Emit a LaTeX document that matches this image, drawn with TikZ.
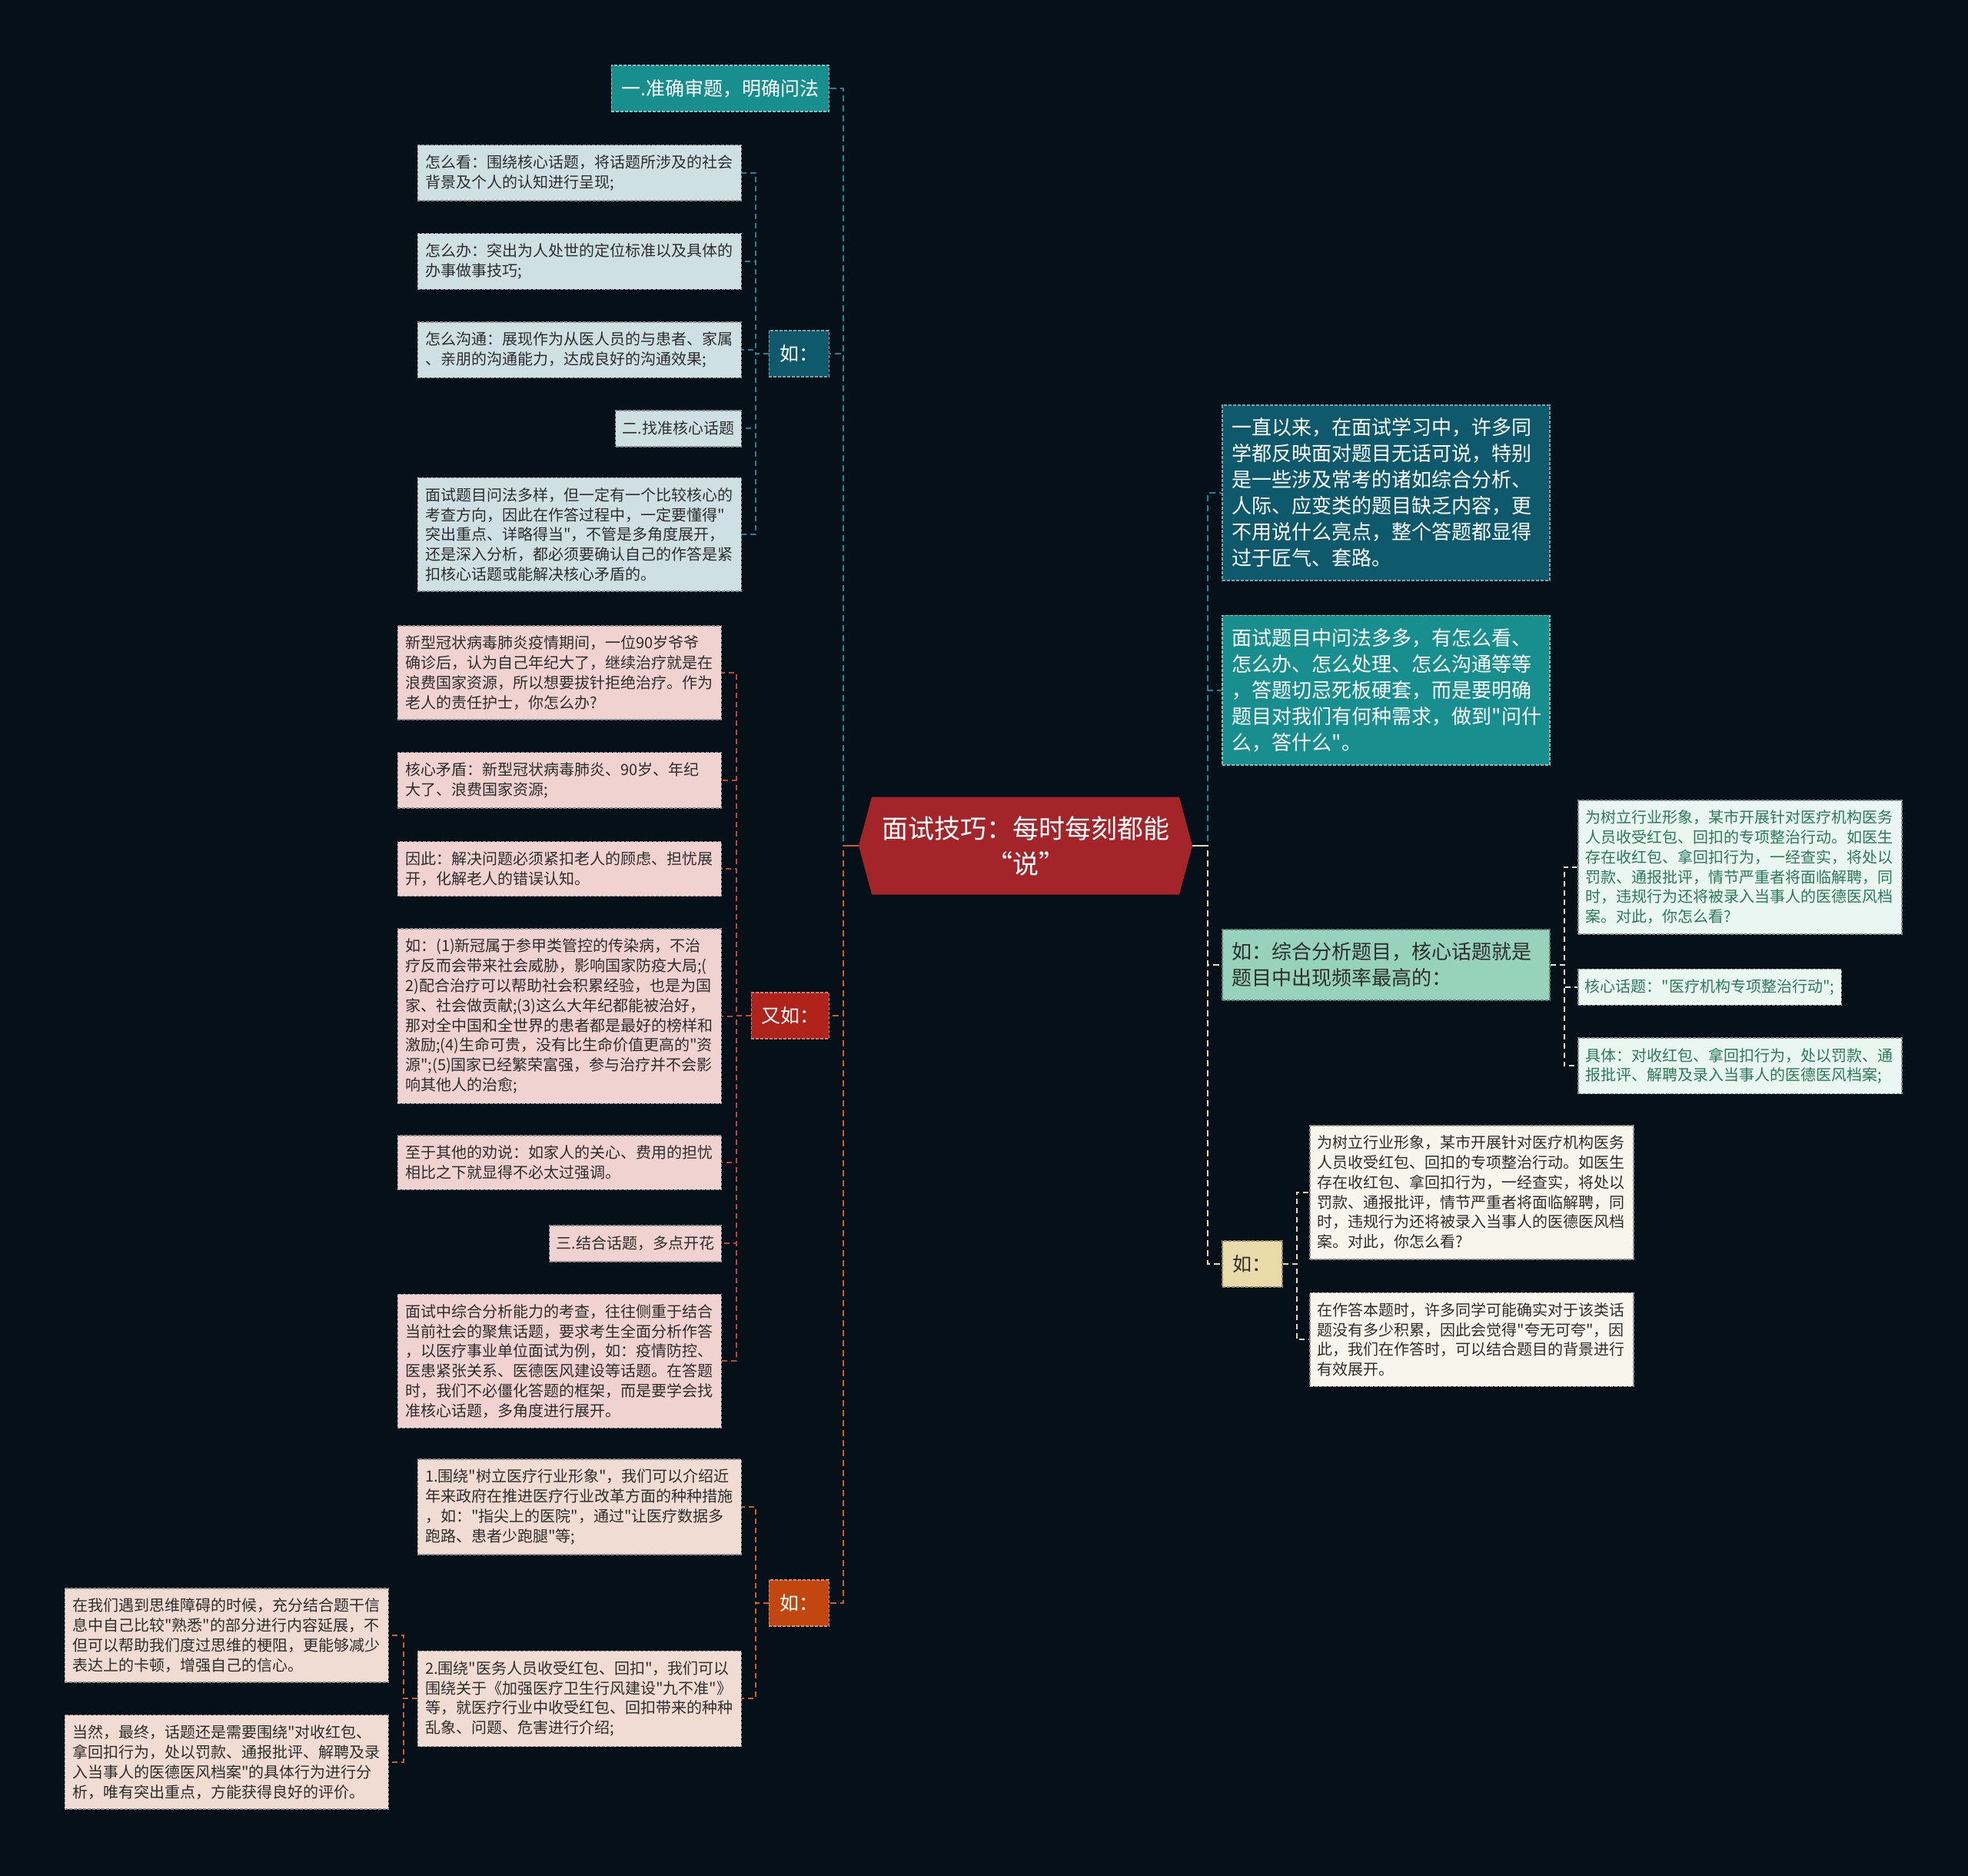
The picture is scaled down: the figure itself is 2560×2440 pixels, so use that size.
\documentclass[tikz,border=0pt]{standalone}
\usepackage{fontspec}
\newfontfamily\cjkfont{Noto Sans CJK SC}
\usepackage{tikz}
\usetikzlibrary{positioning, shapes.symbols}
\definecolor{bgnavy}{RGB}{5,16,24}
\definecolor{titlered}{RGB}{163,37,42}
\definecolor{tealmid}{RGB}{24,142,143}
\definecolor{tealdark}{RGB}{14,90,108}
\definecolor{greyblue}{RGB}{207,224,228}
\definecolor{redlabel}{RGB}{176,35,27}
\definecolor{pinkleaf}{RGB}{240,210,209}
\definecolor{orangelabel}{RGB}{193,70,16}
\definecolor{peachleaf}{RGB}{240,220,210}
\definecolor{greenlabel}{RGB}{151,210,189}
\definecolor{mintleaf}{RGB}{233,246,241}
\definecolor{greentext}{RGB}{44,122,88}
\definecolor{creamlabel}{RGB}{236,219,170}
\definecolor{creamleaf}{RGB}{248,245,236}
\definecolor{inkgrey}{RGB}{45,45,45}
\definecolor{lineteal}{RGB}{30,135,150}
\definecolor{linered}{RGB}{200,68,44}
\definecolor{lineorange}{RGB}{205,95,40}
\definecolor{linecream}{RGB}{234,220,170}
\definecolor{linemint}{RGB}{224,236,232}
\tikzset{
  nodebox/.style={rectangle, dash pattern=on 4pt off 2pt, line width=1.5pt,
    align=left, inner xsep=10pt, inner ysep=13pt},
  leafbox/.style={nodebox, text width=401pt, font=\cjkfont\fontsize{20}{25.8}\selectfont,
    text=inkgrey, draw=black!45},
  bigbox/.style={nodebox, text width=400pt, inner xsep=13pt, inner ysep=17pt,
    font=\cjkfont\fontsize{26}{34}\selectfont, text=white},
  labelbox/.style={nodebox, align=center, inner xsep=13pt, minimum height=60pt,
    font=\cjkfont\fontsize{25}{30}\selectfont},
  headbox/.style={nodebox, inner xsep=9pt, minimum height=47pt,
    font=\cjkfont\fontsize{20}{25.8}\selectfont, text=inkgrey, draw=black!45},
  conn/.style={dash pattern=on 8pt off 5pt, line width=2.5pt},
  subconn/.style={dash pattern=on 7pt off 5pt, line width=2pt},
  stubline/.style={line width=2.5pt},
}
\begin{document}
\begin{tikzpicture}[x=1pt, y=-1pt]
  \useasboundingbox (0,0) rectangle (2560,2440);
  \fill[bgnavy] (0,0) rectangle (2560,2440);

  % centre topic
  \node[signal, signal to=west and east, signal pointer angle=150, fill=titlered,
    minimum width=434pt, minimum height=127pt, inner sep=0pt, align=center, text=white,
    font=\cjkfont\fontsize{34}{46}\selectfont] (title) at (1334,1100) {面试技巧：每时每刻都能\\“说”};
  \coordinate (lt) at ([xshift=-20pt]title.west);
  \coordinate (rt) at ([xshift=20pt]title.east);

  % left: first branch
  \node[labelbox, fill=tealmid, draw=tealmid!55!white, text=white, anchor=east] (way1) at (1079,115) {一.准确审题，明确问法};
  \node[labelbox, fill=tealdark, draw=tealdark!55!white, text=white, minimum width=78pt, anchor=east] (ex1) at (1079,460) {如：};
  \node[leafbox, fill=greyblue, anchor=north east] (look) at (965,188) {怎么看：围绕核心话题，将话题所涉及的社会\\背景及个人的认知进行呈现;};
  \node[leafbox, fill=greyblue, below left=41pt and 0pt of look.south east] (handle) {怎么办：突出为人处世的定位标准以及具体的\\办事做事技巧;};
  \node[leafbox, fill=greyblue, below left=41pt and 0pt of handle.south east] (talk) {怎么沟通：展现作为从医人员的与患者、家属\\、亲朋的沟通能力，达成良好的沟通效果;};
  \node[headbox, fill=greyblue, below left=41pt and 0pt of talk.south east] (way2) {二.找准核心话题};
  \node[leafbox, fill=greyblue, below left=39pt and 0pt of way2.south east] (core) {面试题目问法多样，但一定有一个比较核心的\\考查方向，因此在作答过程中，一定要懂得"\\突出重点、详略得当"，不管是多角度展开，\\还是深入分析，都必须要确认自己的作答是紧\\扣核心话题或能解决核心矛盾的。};

  % left: second branch
  \node[labelbox, fill=redlabel, draw=redlabel!60!white, text=white, anchor=east] (ex2) at (1079,1321) {又如：};
  \node[leafbox, fill=pinkleaf, anchor=north east] (case) at (939,813) {新型冠状病毒肺炎疫情期间，一位90岁爷爷\\确诊后，认为自己年纪大了，继续治疗就是在\\浪费国家资源，所以想要拔针拒绝治疗。作为\\老人的责任护士，你怎么办?};
  \node[leafbox, fill=pinkleaf, below left=41pt and 0pt of case.south east] (clash) {核心矛盾：新型冠状病毒肺炎、90岁、年纪\\大了、浪费国家资源;};
  \node[leafbox, fill=pinkleaf, below left=42pt and 0pt of clash.south east] (hence) {因此：解决问题必须紧扣老人的顾虑、担忧展\\开，化解老人的错误认知。};
  \node[leafbox, fill=pinkleaf, below left=41pt and 0pt of hence.south east] (points) {如：(1)新冠属于参甲类管控的传染病，不治\\疗反而会带来社会威胁，影响国家防疫大局;(\\2)配合治疗可以帮助社会积累经验，也是为国\\家、社会做贡献;(3)这么大年纪都能被治好，\\那对全中国和全世界的患者都是最好的榜样和\\激励;(4)生命可贵，没有比生命价值更高的"资\\源";(5)国家已经繁荣富强，参与治疗并不会影\\响其他人的治愈;};
  \node[leafbox, fill=pinkleaf, below left=40pt and 0pt of points.south east] (other) {至于其他的劝说：如家人的关心、费用的担忧\\相比之下就显得不必太过强调。};
  \node[headbox, fill=pinkleaf, below left=45pt and 0pt of other.south east] (way3) {三.结合话题，多点开花};
  \node[leafbox, fill=pinkleaf, below left=41pt and 0pt of way3.south east] (focus) {面试中综合分析能力的考查，往往侧重于结合\\当前社会的聚焦话题，要求考生全面分析作答\\，以医疗事业单位面试为例，如：疫情防控、\\医患紧张关系、医德医风建设等话题。在答题\\时，我们不必僵化答题的框架，而是要学会找\\准核心话题，多角度进行展开。};

  % left: third branch
  \node[labelbox, fill=orangelabel, draw=orangelabel!60!white, text=white, minimum width=78pt, anchor=east] (ex3) at (1079,2085) {如：};
  \node[leafbox, fill=peachleaf, anchor=north east] (image) at (965,1897) {1.围绕"树立医疗行业形象"，我们可以介绍近\\年来政府在推进医疗行业改革方面的种种措施\\，如："指尖上的医院"，通过"让医疗数据多\\跑路、患者少跑腿"等;};
  \node[leafbox, fill=peachleaf, below left=124pt and 0pt of image.south east] (redpack) {2.围绕"医务人员收受红包、回扣"，我们可以\\围绕关于《加强医疗卫生行风建设"九不准"》\\等，就医疗行业中收受红包、回扣带来的种种\\乱象、问题、危害进行介绍;};
  \node[leafbox, fill=peachleaf, anchor=north east] (block) at (506,2065) {在我们遇到思维障碍的时候，充分结合题干信\\息中自己比较"熟悉"的部分进行内容延展，不\\但可以帮助我们度过思维的梗阻，更能够减少\\表达上的卡顿，增强自己的信心。};
  \node[leafbox, fill=peachleaf, below left=41pt and 0pt of block.south east] (stress) {当然，最终，话题还是需要围绕"对收红包、\\拿回扣行为，处以罚款、通报批评、解聘及录\\入当事人的医德医风档案"的具体行为进行分\\析，唯有突出重点，方能获得良好的评价。};

  % right side
  \node[bigbox, fill=tealdark, draw=tealdark!55!white, anchor=north west] (intro) at (1589,526) {一直以来，在面试学习中，许多同\\学都反映面对题目无话可说，特别\\是一些涉及常考的诸如综合分析、\\人际、应变类的题目缺乏内容，更\\不用说什么亮点，整个答题都显得\\过于匠气、套路。};
  \node[bigbox, fill=tealmid, draw=tealmid!55!white, below right=44pt and 0pt of intro.south west] (need) {面试题目中问法多多，有怎么看、\\怎么办、怎么处理、怎么沟通等等\\，答题切忌死板硬套，而是要明确\\题目对我们有何种需求，做到"问什\\么，答什么"。};
  \node[bigbox, fill=greenlabel, draw=greenlabel!60!black, text=inkgrey, anchor=west] (ex4) at (1589,1255) {如：综合分析题目，核心话题就是\\题目中出现频率最高的：};
  \node[leafbox, fill=mintleaf, text=greentext, anchor=north west] (task1) at (2052,1040) {为树立行业形象，某市开展针对医疗机构医务\\人员收受红包、回扣的专项整治行动。如医生\\存在收红包、拿回扣行为，一经查实，将处以\\罚款、通报批评，情节严重者将面临解聘，同\\时，违规行为还将被录入当事人的医德医风档\\案。对此，你怎么看?};
  \node[headbox, fill=mintleaf, text=greentext, below right=44pt and 0pt of task1.south west] (topic) {核心话题："医疗机构专项整治行动";};
  \node[leafbox, fill=mintleaf, text=greentext, below right=41pt and 0pt of topic.south west] (detail) {具体：对收红包、拿回扣行为，处以罚款、通\\报批评、解聘及录入当事人的医德医风档案;};
  \node[labelbox, fill=creamlabel, draw=creamlabel!60!black, text=inkgrey, minimum width=78pt, anchor=west] (ex5) at (1589,1644) {如：};
  \node[leafbox, fill=creamleaf, anchor=north west] (task2) at (1703,1463) {为树立行业形象，某市开展针对医疗机构医务\\人员收受红包、回扣的专项整治行动。如医生\\存在收红包、拿回扣行为，一经查实，将处以\\罚款、通报批评，情节严重者将面临解聘，同\\时，违规行为还将被录入当事人的医德医风档\\案。对此，你怎么看?};
  \node[leafbox, fill=creamleaf, below right=42pt and 0pt of task2.south west] (answer) {在作答本题时，许多同学可能确实对于该类话\\题没有多少积累，因此会觉得"夸无可夸"，因\\此，我们在作答时，可以结合题目的背景进行\\有效展开。};

  % connectors from the centre
  \draw[conn, lineteal] (title.west) -- (lt) |- (way1.east);
  \draw[conn, lineteal] (title.west) -- (lt) |- (ex1.east);
  \draw[conn, lineorange] (title.west) -- (lt) |- (ex2.east);
  \draw[conn, lineorange] (title.west) -- (lt) |- (ex3.east);
  \draw[conn, lineteal] (title.east) -- (rt) |- (intro.west);
  \draw[conn, lineteal] (title.east) -- (rt) |- (need.west);
  \draw[conn, linecream] (title.east) -- (rt) |- (ex4.west);
  \draw[conn, linecream] (title.east) -- (rt) |- (ex5.west);
  \draw[stubline, lineorange] (title.west) -- (lt);
  \draw[stubline, linecream] (title.east) -- (rt);

  % connectors to the leaves
  \draw[subconn, lineteal] (ex1.west) -- ++(-17,0) |- (look.east);
  \draw[subconn, lineteal] (ex1.west) -- ++(-17,0) |- (handle.east);
  \draw[subconn, lineteal] (ex1.west) -- ++(-17,0) |- (talk.east);
  \draw[subconn, lineteal] (ex1.west) -- ++(-17,0) |- (way2.east);
  \draw[subconn, lineteal] (ex1.west) -- ++(-17,0) |- (core.east);
  \draw[subconn, linered] (ex2.west) -- ++(-19,0) |- (case.east);
  \draw[subconn, linered] (ex2.west) -- ++(-19,0) |- (clash.east);
  \draw[subconn, linered] (ex2.west) -- ++(-19,0) |- (hence.east);
  \draw[subconn, linered] (ex2.west) -- ++(-19,0) |- (points.east);
  \draw[subconn, linered] (ex2.west) -- ++(-19,0) |- (other.east);
  \draw[subconn, linered] (ex2.west) -- ++(-19,0) |- (way3.east);
  \draw[subconn, linered] (ex2.west) -- ++(-19,0) |- (focus.east);
  \draw[subconn, lineorange] (ex3.west) -- ++(-17,0) |- (image.east);
  \draw[subconn, lineorange] (ex3.west) -- ++(-17,0) |- (redpack.east);
  \draw[subconn, lineorange] (redpack.west) -- ++(-18,0) |- (block.east);
  \draw[subconn, lineorange] (redpack.west) -- ++(-18,0) |- (stress.east);
  \draw[subconn, linemint] (ex4.east) -- ++(18,0) |- (task1.west);
  \draw[subconn, linemint] (ex4.east) -- ++(18,0) |- (topic.west);
  \draw[subconn, linemint] (ex4.east) -- ++(18,0) |- (detail.west);
  \draw[subconn, linecream] (ex5.east) -- ++(18,0) |- (task2.west);
  \draw[subconn, linecream] (ex5.east) -- ++(18,0) |- (answer.west);
\end{tikzpicture}
\end{document}
